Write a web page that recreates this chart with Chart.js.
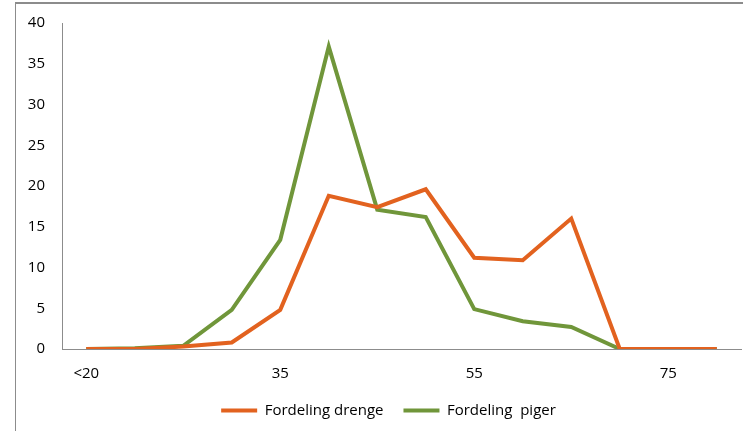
<!DOCTYPE html>
<html>
<head>
<meta charset="utf-8">
<script src="https://cdn.jsdelivr.net/npm/chart.js@4"></script>
<style>
  html, body { margin: 0; padding: 0; background: #fff; }
  #wrap { position: relative; width: 743px; height: 431px; overflow: hidden; }
  #frame { position: absolute; left: 15px; top: 2px; width: 800px; height: 500px;
           border: 1px solid #8c8c8c; border-width: 2px 0 0 1px; }
  canvas { position: absolute; left: 0; top: 0; }
</style>
</head>
<body>
<div id="wrap">
  <div id="frame"></div>
  <canvas id="chart" width="743" height="431"></canvas>
</div>
<script>
const categories = ['<20', '20', '25', '30', '35', '40', '45', '50', '55', '60', '65', '70', '75', '80'];
const drenge = [0, 0, 0.3, 0.8, 4.8, 18.8, 17.4, 19.6, 11.2, 10.9, 16.0, 0, 0, 0];
const piger = [0, 0.1, 0.4, 4.8, 13.4, 37.1, 17.1, 16.2, 4.9, 3.4, 2.7, 0, 0, 0];
const yTicks = [0, 5, 10, 15, 20, 25, 30, 35, 40];

const font = { family: 'Open Sans', size: 15 };

// the original legend sits a bit right of the canvas centre
const shiftLegend = {
  id: 'shiftLegend',
  afterLayout(chart) {
    chart.legend.left += 18;
    chart.legend.right += 18;
  }
};

const elem = document.getElementById('chart');
const chart = new Chart(elem, {
  type: 'line',
  data: {
    labels: categories,
    datasets: [{
      label: 'Fordeling drenge',
      data: drenge,
      borderColor: '#E2621F',
      backgroundColor: '#E2621F',
      borderWidth: 4,
      pointRadius: 0,
      tension: 0,
    }, {
      label: 'Fordeling  piger',
      data: piger,
      borderColor: '#70963A',
      backgroundColor: '#70963A',
      borderWidth: 4,
      pointRadius: 0,
      tension: 0,
    }]
  },
  plugins: [shiftLegend],
  options: {
    responsive: false,
    animation: false,
    layout: { padding: { top: 23, right: 2, left: 0, bottom: 3 } },
    plugins: {
      legend: {
        position: 'bottom',
        labels: {
          color: '#000',
          font: font,
          usePointStyle: true,
          pointStyle: 'line',
          pointStyleWidth: 36,
          boxHeight: 4,
          padding: 20,
        }
      },
      tooltip: { enabled: false },
    },
    scales: {
      x: {
        offset: true,
        grid: { display: false, drawTicks: false },
        border: { color: '#8c8c8c', width: 1 },
        ticks: {
          color: '#000',
          font: font,
          autoSkip: false,
          maxRotation: 0,
          padding: 16,
          callback: (v, i) => (i % 4 === 0 ? categories[i] : ''),
        },
        afterFit: (s) => { s.height = 34; },
      },
      y: {
        min: 0,
        max: 40,
        afterBuildTicks: (s) => { s.ticks = yTicks.map(v => ({ value: v })); },
        grid: { display: false, drawTicks: false },
        border: { color: '#8c8c8c', width: 1 },
        ticks: { color: '#000', font: font, padding: 17 },
        afterFit: (s) => { s.width = 62; s.paddingTop = 0; s.paddingBottom = 0; },
      }
    }
  }
});
</script>
</body>
</html>
